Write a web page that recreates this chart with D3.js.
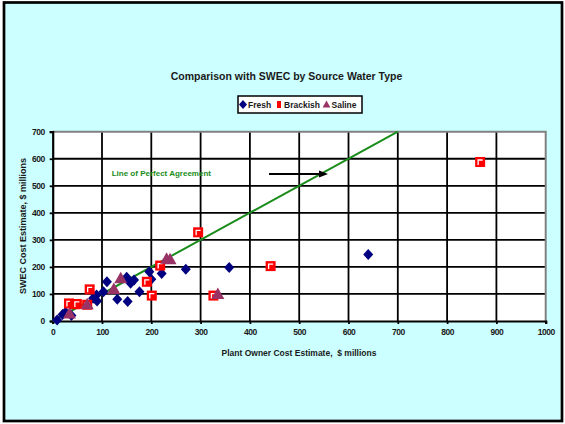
<!DOCTYPE html>
<html><head><meta charset="utf-8">
<script src="https://cdn.jsdelivr.net/npm/d3@7"></script>
<style>
html,body{margin:0;padding:0;background:#fff;}
svg{display:block;}
text{font-family:"Liberation Sans",Arial,sans-serif;font-weight:bold;white-space:pre;}
</style></head>
<body>
<svg id="c" width="565" height="424"></svg>
<script>
const title = "Comparison with SWEC by Source Water Type";
const xLabel = "Plant Owner Cost Estimate,  $ millions";
const yLabel = "SWEC Cost Estimate, $ millions";
const seriesNames = ["Fresh", "Brackish", "Saline"];
const xTicks = [0,100,200,300,400,500,600,700,800,900,1000];
const yTicks = [0,100,200,300,400,500,600,700];
const fresh = [[9,4],[20,24],[26,32],[38,20],[82,84],[89,96],[90,74],[103,108],[110,145],[131,80],[152,72],[150,162],[158,140],[165,152],[176,108],[196,182],[200,154],[221,176],[270,191],[358,198],[640,246]];
const brackish = [[33,65],[45,62],[49,63],[70,60],[75,117],[191,145],[201,94],[218,205],[295,328],[326,94],[442,203],[867,588]];
const saline = [[34,28],[70,62],[124,118],[138,158],[231,230],[238,228],[335,100]];
const perfectLine = [[0,0],[700,700]];
const lineLabel = "Line of Perfect Agreement";

const svg = d3.select("#c");
svg.append("rect").attr("x",0).attr("y",0).attr("width",565).attr("height",424).attr("fill","#ffffff");
svg.append("rect").attr("x",4).attr("y",2.5).attr("width",558).attr("height",418.5)
  .attr("fill","#CCFFFF").attr("stroke","#000").attr("stroke-width",2.7);

const x = d3.scaleLinear().domain([0,1000]).range([52.7,545.7]);
const y = d3.scaleLinear().domain([0,700]).range([321,131.7]);

svg.append("rect").attr("x",x(0)).attr("y",y(700)).attr("width",x(1000)-x(0)).attr("height",y(0)-y(700)).attr("fill","#fff");

const g = svg.append("g");
g.selectAll("line.h").data(yTicks.filter(d=>d>0&&d<700)).enter().append("line")
  .attr("x1",x(0)).attr("x2",x(1000)).attr("y1",d=>y(d)).attr("y2",d=>y(d))
  .attr("stroke","#000").attr("stroke-width",1.8);
g.selectAll("line.v").data(xTicks.filter(d=>d>0&&d<1000)).enter().append("line")
  .attr("y1",y(0)).attr("y2",y(700)).attr("x1",d=>x(d)).attr("x2",d=>x(d))
  .attr("stroke","#000").attr("stroke-width",1.8);
svg.append("path").attr("d",`M${x(0)},${y(700)}H${x(1000)}V${y(0)}`).attr("fill","none").attr("stroke","#808080").attr("stroke-width",2);

const xa = svg.append("g").attr("transform",`translate(0,${y(0)})`)
  .call(d3.axisBottom(x).tickValues(xTicks).tickFormat(d3.format("d")).tickSize(3).tickPadding(5));
const ya = svg.append("g").attr("transform",`translate(${x(0)},0)`)
  .call(d3.axisLeft(y).tickValues(yTicks).tickFormat(d3.format("d")).tickSize(3).tickPadding(5));
[xa,ya].forEach(a=>{
  a.select(".domain").attr("stroke","#000").attr("stroke-width",2.2);
  a.selectAll(".tick line").attr("stroke","#000").attr("stroke-width",1.8);
  a.selectAll(".tick text").attr("fill","#1a1a1a").style("font-size","8.5px").style("letter-spacing","-0.5px").style("font-family","'Liberation Sans',Arial,sans-serif").style("font-weight","bold");
});

svg.append("path").datum(perfectLine)
  .attr("d", d3.line().x(d=>x(d[0])).y(d=>y(d[1])))
  .attr("stroke","#1a8c1a").attr("stroke-width",2).attr("fill","none");

const diamond = "M0,-5.5L5,0L0,5.5L-5,0Z";
const tri = "M0,-6.5L6.5,5L-6.5,5Z";
svg.append("g").selectAll("path").data(fresh).enter().append("path")
  .attr("d",diamond).attr("transform",d=>`translate(${x(d[0])},${y(d[1])})`).attr("fill","#000080");
const bg = svg.append("g").selectAll("g").data(brackish).enter().append("g")
  .attr("transform",d=>`translate(${x(d[0])},${y(d[1])})`);
bg.append("rect").attr("x",-5).attr("y",-5).attr("width",10).attr("height",10).attr("fill","#ff0000");
bg.append("path").attr("d","M-2,3V-2H2.5").attr("stroke","#fff").attr("stroke-width",1.3).attr("fill","none");
svg.append("g").selectAll("path").data(saline).enter().append("path")
  .attr("d",tri).attr("transform",d=>`translate(${x(d[0])},${y(d[1])})`).attr("fill","#993366");

svg.append("text").attr("x",111.7).attr("y",175.5).attr("fill","#1a8c1a").style("font-size","8px").text(lineLabel);
svg.append("line").attr("x1",269).attr("x2",320).attr("y1",174).attr("y2",174).attr("stroke","#000").attr("stroke-width",2);
svg.append("path").attr("d","M328,174L319,170.5L319,177.5Z").attr("fill","#000");

svg.append("text").attr("x",286.5).attr("y",80).attr("text-anchor","middle").attr("fill","#1a1a1a").style("font-size","10.5px").text(title);

const lg = svg.append("g");
lg.append("rect").attr("x",238).attr("y",96).attr("width",124).attr("height",17).attr("fill","#fff").attr("stroke","#000").attr("stroke-width",1.5);
const ly = 104.5;
lg.append("path").attr("d",diamond).attr("transform",`translate(243,${ly}) scale(0.8)`).attr("fill","#000080");
lg.append("rect").attr("x",277).attr("y",ly-3.5).attr("width",4).attr("height",7).attr("fill","#ff0000");
lg.append("path").attr("d",tri).attr("transform",`translate(326.5,${ly}) scale(0.6)`).attr("fill","#993366");
const legX = [248, 284, 331.5];
seriesNames.forEach((n,i)=>{
  lg.append("text").attr("x",legX[i]).attr("y",ly+3).attr("fill","#1a1a1a").style("font-size","8.5px").text(n);
});

svg.append("text").attr("x",299).attr("y",356).attr("text-anchor","middle").attr("fill","#1a1a1a").style("font-size","8.5px").text(xLabel);
svg.append("text").attr("transform","translate(26,226) rotate(-90)").attr("text-anchor","middle").attr("fill","#1a1a1a").style("font-size","9px").text(yLabel);
</script>
</body></html>
